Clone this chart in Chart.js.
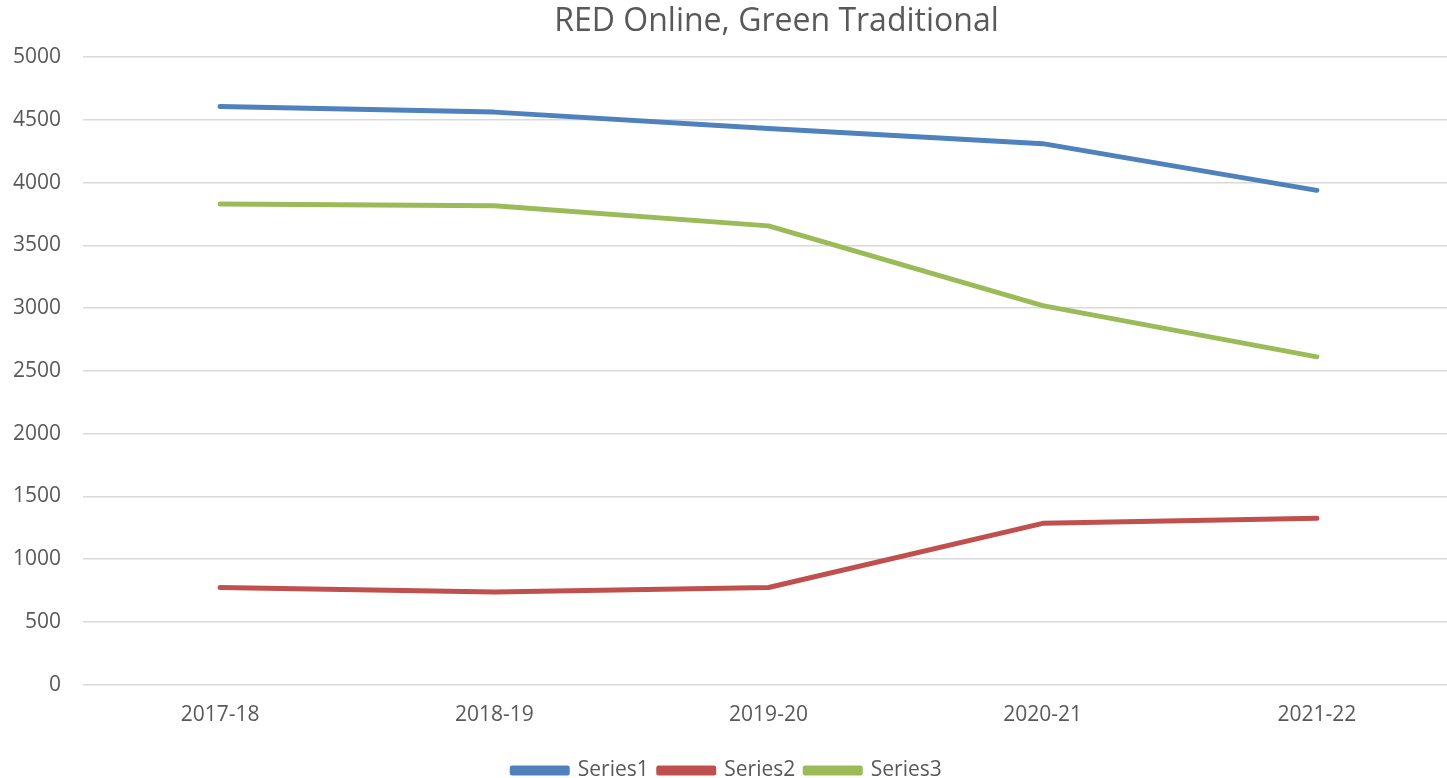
<!DOCTYPE html>
<html>
<head>
<meta charset="utf-8">
<script src="https://cdn.jsdelivr.net/npm/chart.js@4.4.1/dist/chart.umd.min.js"></script>
<style>
  html, body { margin: 0; padding: 0; background: #fff; overflow: hidden; }
  #wrap { width: 1454px; height: 778px; position: relative; }
</style>
</head>
<body>
<div id="wrap"><canvas id="c"></canvas></div>
<script>
const categories = ['2017-18', '2018-19', '2019-20', '2020-21', '2021-22'];
const series1 = [4606, 4561, 4430, 4310, 3938];
const series2 = [775, 740, 775, 1286, 1326];
const series3 = [3829, 3815, 3655, 3020, 2612];
const seriesNames = ['Series1', 'Series2', 'Series3'];
const chartTitle = 'RED Online, Green Traditional';

const FONT = "'Open Sans', 'Liberation Sans', sans-serif";
const TEXT = '#595959';

const titlePlugin = {
  id: 'customTitle',
  afterDraw(chart) {
    const ctx = chart.ctx;
    const a = chart.chartArea;
    ctx.save();
    ctx.font = '32px ' + FONT;
    ctx.fillStyle = TEXT;
    ctx.textAlign = 'center';
    ctx.textBaseline = 'middle';
    ctx.fillText(chartTitle, (a.left + a.right) / 2 + 8, 22);
    ctx.restore();
  }
};

function ds(label, data, color) {
  return {
    label, data,
    borderColor: color, backgroundColor: color,
    borderWidth: 5, pointRadius: 0, pointHoverRadius: 0,
    tension: 0, fill: false, borderCapStyle: 'round', borderJoinStyle: 'round'
  };
}

new Chart(document.getElementById('c'), {
  type: 'line',
  data: {
    labels: categories,
    datasets: [
      ds(seriesNames[0], series1, '#4F81BD'),
      ds(seriesNames[1], series2, '#C0504D'),
      ds(seriesNames[2], series3, '#9BBB59')
    ]
  },
  options: {
    responsive: true,
    maintainAspectRatio: false,
    animation: false,
    layout: { padding: { top: 57, right: 0, left: 0, bottom: -13 } },
    plugins: {
      title: { display: false },
      tooltip: { enabled: false },
      legend: {
        position: 'bottom',
        labels: {
          boxWidth: 55, boxHeight: 5, padding: 10,
          color: TEXT, font: { family: FONT, size: 21 }
        }
      }
    },
    scales: {
      x: {
        offset: true,
        grid: { display: false, drawTicks: false },
        border: { display: false },
        ticks: { color: TEXT, font: { family: FONT, size: 21 }, padding: 18, maxRotation: 0 },
        afterFit(scale) { scale.height += 4; }
      },
      y: {
        min: 0, max: 5000,
        grid: { color: '#D9D9D9', lineWidth: 1.5, drawTicks: false },
        border: { display: false },
        ticks: {
          stepSize: 500, color: TEXT, font: { family: FONT, size: 21 }, padding: 22,
          callback: (v) => String(v)
        },
        afterFit(scale) { scale.width = 83; }
      }
    }
  },
  plugins: [titlePlugin]
});
</script>
</body>
</html>
